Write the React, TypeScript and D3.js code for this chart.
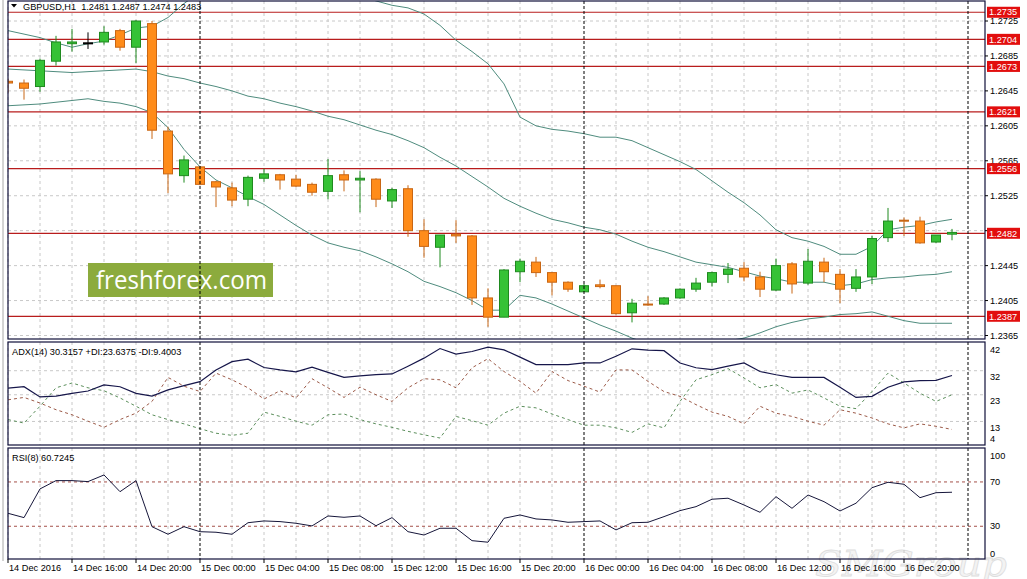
import React from 'react';
import * as d3 from 'd3';

// GBPUSD H1, 14 Dec 12:00 .. 16 Dec 23:00
const opens = [1.2656, 1.2654, 1.2650, 1.2679, 1.2699, 1.2700, 1.2701, 1.2714, 1.2695, 1.2722,
  1.2599, 1.2548, 1.2558, 1.2541, 1.2534, 1.2521, 1.2545, 1.2549, 1.2544, 1.2538,
  1.2530, 1.2549, 1.2543, 1.2544, 1.2519, 1.2533, 1.2485, 1.2466, 1.2481, 1.2479,
  1.2408, 1.2386, 1.2438, 1.2449, 1.2437, 1.2426, 1.2415, 1.2423, 1.2422, 1.2391,
  1.2401, 1.2401, 1.2408, 1.2418, 1.2426, 1.2435, 1.2442, 1.2432, 1.2417, 1.2447,
  1.2425, 1.2449, 1.2435, 1.2419, 1.2432, 1.2477, 1.2497, 1.2496, 1.2472, 1.2481];
const highs = [1.2659, 1.2658, 1.2682, 1.2708, 1.2716, 1.2712, 1.2719, 1.2716, 1.2726, 1.2725,
  1.2604, 1.2571, 1.2559, 1.2542, 1.2540, 1.2548, 1.2556, 1.2550, 1.2549, 1.2540,
  1.2567, 1.2554, 1.2553, 1.2545, 1.2534, 1.2537, 1.2498, 1.2480, 1.2497, 1.2480,
  1.2419, 1.2441, 1.2453, 1.2455, 1.2437, 1.2427, 1.2424, 1.2429, 1.2422, 1.2407,
  1.2410, 1.2409, 1.2419, 1.2431, 1.2438, 1.2448, 1.2449, 1.2438, 1.2453, 1.2449,
  1.2464, 1.2454, 1.2441, 1.2441, 1.2479, 1.2511, 1.2500, 1.2501, 1.2480, 1.2487];
const lows = [1.2643, 1.2635, 1.2644, 1.2674, 1.2690, 1.2693, 1.2698, 1.2691, 1.2677, 1.2590,
  1.2528, 1.2540, 1.2537, 1.2512, 1.2513, 1.2513, 1.2541, 1.2532, 1.2535, 1.2525,
  1.2521, 1.2530, 1.2506, 1.2512, 1.2511, 1.2478, 1.2454, 1.2443, 1.2471, 1.2400,
  1.2375, 1.2386, 1.2426, 1.2432, 1.2411, 1.2415, 1.2415, 1.2419, 1.2389, 1.2380,
  1.2399, 1.2400, 1.2407, 1.2415, 1.2421, 1.2425, 1.2427, 1.2409, 1.2416, 1.2413,
  1.2423, 1.2426, 1.2402, 1.2415, 1.2424, 1.2472, 1.2479, 1.2470, 1.2471, 1.2474];
const closes = [1.2654, 1.2648, 1.2680, 1.2701, 1.2701, 1.2700, 1.2712, 1.2695, 1.2725, 1.2600,
  1.2550, 1.2566, 1.2538, 1.2535, 1.2520, 1.2546, 1.2550, 1.2543, 1.2536, 1.2529,
  1.2548, 1.2543, 1.2545, 1.2521, 1.2532, 1.2485, 1.2467, 1.2480, 1.2479, 1.2408,
  1.2386, 1.2440, 1.2450, 1.2437, 1.2426, 1.2418, 1.2422, 1.2421, 1.2390, 1.2402,
  1.2400, 1.2408, 1.2418, 1.2425, 1.2437, 1.2441, 1.2432, 1.2418, 1.2445, 1.2424,
  1.2450, 1.2438, 1.2418, 1.2432, 1.2476, 1.2496, 1.2496, 1.2471, 1.2480, 1.2483];

// bollinger bands
const bbUpper = [1.2714, 1.2710, 1.2706, 1.2700, 1.2695, 1.2699, 1.2702, 1.2709, 1.2717, 1.2719,
  1.2729, 1.2745, 1.2758, 1.2766, 1.2772, 1.2774, 1.2775, 1.2775, 1.2774, 1.2772,
  1.2767, 1.2761, 1.2753, 1.2748, 1.2743, 1.2740, 1.2733, 1.2720, 1.2703, 1.2690,
  1.2676, 1.2653, 1.2615, 1.2605, 1.2601, 1.2599, 1.2596, 1.2592, 1.2592, 1.2588,
  1.2580, 1.2572, 1.2564, 1.2555, 1.2542, 1.2529, 1.2517, 1.2503, 1.2486, 1.2477,
  1.2473, 1.2467, 1.2458, 1.2458, 1.2467, 1.2486, 1.2489, 1.2491, 1.2495, 1.2498];
const bbMiddle = [1.2670, 1.2669, 1.2668, 1.2667, 1.2666, 1.2667, 1.2668, 1.2669, 1.2670, 1.2667,
  1.2662, 1.2659, 1.2654, 1.2650, 1.2645, 1.2639, 1.2636, 1.2631, 1.2627, 1.2622,
  1.2616, 1.2612, 1.2606, 1.2600, 1.2595, 1.2588, 1.2580, 1.2569, 1.2559, 1.2547,
  1.2535, 1.2522, 1.2513, 1.2505, 1.2498, 1.2494, 1.2489, 1.2486, 1.2481, 1.2473,
  1.2466, 1.2461, 1.2455, 1.2449, 1.2446, 1.2443, 1.2438, 1.2433, 1.2430, 1.2426,
  1.2426, 1.2426, 1.2422, 1.2424, 1.2429, 1.2431, 1.2432, 1.2434, 1.2435, 1.2438];
const bbLower = [1.2628, 1.2629, 1.2630, 1.2632, 1.2634, 1.2636, 1.2633, 1.2631, 1.2627, 1.2620,
  1.2603, 1.2578, 1.2558, 1.2543, 1.2534, 1.2524, 1.2515, 1.2503, 1.2491, 1.2480,
  1.2471, 1.2466, 1.2462, 1.2455, 1.2447, 1.2438, 1.2427, 1.2421, 1.2414, 1.2405,
  1.2394, 1.2394, 1.2411, 1.2408, 1.2401, 1.2393, 1.2385, 1.2377, 1.2370, 1.2362,
  1.2356, 1.2353, 1.2351, 1.2352, 1.2355, 1.2359, 1.2362, 1.2368, 1.2375, 1.2380,
  1.2384, 1.2386, 1.2389, 1.2390, 1.2392, 1.2387, 1.2382, 1.2379, 1.2379, 1.2379];

const adx = [25.5, 26.0, 22.2, 22.5, 23.5, 24.4, 26.7, 26.0, 23.5, 22.5,
  24.8, 26.4, 27.9, 32.3, 35.4, 36.3, 33.2, 32.3, 31.6, 33.3,
  31.4, 29.5, 30.1, 30.5, 30.8, 33.7, 36.7, 40.3, 38.2, 39.2,
  40.8, 39.8, 37.1, 34.3, 34.3, 34.3, 34.9, 34.9, 37.4, 40.2,
  39.7, 39.5, 34.9, 33.1, 32.4, 33.7, 34.9, 31.7, 30.5, 29.5,
  29.5, 29.5, 25.8, 22.0, 22.4, 25.8, 27.8, 28.3, 28.4, 30.2];
const plusDI = [13.7, 12.4, 18.7, 25.6, 27.4, 25.6, 24.5, 21.8, 18.7, 15.5,
  13.7, 12.1, 10.3, 8.6, 7.8, 8.6, 16.5, 14.9, 13.1, 11.6,
  15.5, 15.8, 13.7, 12.1, 10.8, 9.3, 8.0, 6.8, 14.9, 13.3,
  11.6, 16.1, 18.7, 18.1, 15.8, 13.7, 11.6, 11.6, 10.6, 8.9,
  12.1, 10.6, 20.5, 28.6, 30.5, 32.8, 29.3, 25.6, 26.8, 23.6,
  24.8, 21.8, 18.7, 17.8, 24.2, 31.1, 27.4, 23.6, 20.5, 23.0];
const minusDI = [21.1, 22.0, 19.9, 17.4, 15.5, 13.1, 10.8, 13.7, 16.1, 20.5,
  29.5, 26.2, 24.2, 31.1, 28.6, 25.6, 21.4, 24.5, 21.8, 29.0,
  25.6, 22.0, 25.8, 23.0, 20.5, 25.6, 29.0, 28.6, 25.6, 33.1,
  36.5, 31.7, 28.0, 23.6, 31.7, 28.3, 26.2, 24.0, 32.3, 32.3,
  28.0, 24.2, 22.4, 19.3, 16.5, 14.9, 12.1, 18.7, 16.1, 14.9,
  13.1, 11.6, 17.4, 16.1, 14.3, 12.1, 10.6, 12.1, 11.2, 10.0];
const rsi = [41.7, 37.8, 63.7, 71.2, 71.2, 70.3, 76.3, 61.2, 71.2, 29.6,
  22.8, 29.6, 25.1, 24.6, 22.8, 33.2, 34.8, 34.2, 32.7, 30.3,
  39.3, 38.1, 39.3, 30.5, 37.8, 25.1, 22.1, 28.2, 28.2, 17.0,
  15.6, 37.2, 40.2, 36.6, 35.7, 33.6, 34.2, 34.8, 26.7, 33.2,
  33.6, 38.7, 44.1, 47.7, 54.4, 55.3, 49.2, 42.6, 56.7, 46.2,
  58.2, 52.2, 43.8, 50.8, 64.8, 69.7, 67.9, 55.8, 60.3, 60.7];

const levels = [1.2735, 1.2704, 1.2673, 1.2621, 1.2556, 1.2482, 1.2387];
const priceTicks = [1.2725, 1.2685, 1.2645, 1.2605, 1.2565, 1.2525, 1.2485, 1.2445, 1.2405, 1.2365];
const adxTicks = [42, 32, 23, 13];
const rsiTicks = [100, 70, 30, 0];
const rsiLevels = [70, 30];
const timeLabels = ['14 Dec 2016', '14 Dec 16:00', '14 Dec 20:00', '15 Dec 00:00', '15 Dec 04:00',
  '15 Dec 08:00', '15 Dec 12:00', '15 Dec 16:00', '15 Dec 20:00', '16 Dec 00:00', '16 Dec 04:00',
  '16 Dec 08:00', '16 Dec 12:00', '16 Dec 16:00', '16 Dec 20:00'];
const daySeparators = [12, 36, 60];

const W = 1027;
const H = 579;
const LEFT = 8;
const RIGHT = 985;
const MAIN = { top: 1, bottom: 339 };
const ADXP = { top: 342, bottom: 445 };
const RSIP = { top: 448, bottom: 559 };
const FONT = '"Liberation Sans", Arial, sans-serif';
const FS = 9.2;
const GRID = '#c8c8c8';
const FRAME = '#10103a';

export default function App() {
  const x = d3.scaleLinear().domain([0, 60]).range([8, 968]);
  const y = d3.scaleLinear().domain([1.2365, 1.2725]).range([335.5, 21]);
  const ya = d3.scaleLinear().domain([4, 42]).range([445.5, 344]);
  const yr = d3.scaleLinear().domain([0, 100]).range([559.5, 448.7]);

  const priceLine = d3.line<number>().x((_, i) => x(i)).y(d => y(d));
  const adxLine = d3.line<number>().x((_, i) => x(i)).y(d => ya(d));
  const rsiLine = d3.line<number>().x((_, i) => x(i)).y(d => yr(d));

  const gridX = d3.range(0, 60, 2).filter(i => !daySeparators.includes(i));

  const panel = (p: { top: number; bottom: number }, id: string) => (
    <clipPath id={id}>
      <rect x={LEFT} y={p.top} width={RIGHT - LEFT} height={p.bottom - p.top} />
    </clipPath>
  );

  const vGrid = (p: { top: number; bottom: number }) =>
    gridX.map(i => (
      <line key={i} x1={x(i)} x2={x(i)} y1={p.top} y2={p.bottom} stroke={GRID} strokeDasharray="3,3" />
    ));

  return (
    <svg width={W} height={H} style={{ position: 'absolute', left: 0, top: 0, background: '#fff' }}
      fontFamily={FONT} fontSize={FS}>
      <defs>
        {panel(MAIN, 'clipMain')}
        {panel(ADXP, 'clipAdx')}
        {panel(RSIP, 'clipRsi')}
      </defs>
      <rect width={W} height={H} fill="#fff" />
      <line x1={3} x2={3} y1={0} y2={RSIP.bottom + 2} stroke="#a8a8a8" />

      {/* faint watermark behind the bottom right corner */}
      <text x={815} y={576} fontFamily='"DejaVu Serif", serif' fontStyle="italic" fontSize={36}
        fill="#f3f3f3" stroke="#dedede" strokeWidth={0.8}
        textLength={192} lengthAdjust="spacingAndGlyphs">SMGroup</text>

      {/* ---------- main panel ---------- */}
      <g>
        {vGrid(MAIN)}
        {priceTicks.map(t => (
          <line key={t} x1={LEFT} x2={RIGHT} y1={y(t)} y2={y(t)} stroke={GRID} strokeDasharray="3,3" />
        ))}
        {levels.map(l => (
          <line key={l} x1={LEFT} x2={RIGHT} y1={y(l)} y2={y(l)} stroke="#b81c1c" strokeWidth={1.2} />
        ))}
        <rect x={88} y={263} width={185} height={34} fill="#8cab3d" />
        <text x={96} y={289} fontFamily='"Open Sans", sans-serif' fontSize={26} fill="#fff"
          textLength={171} lengthAdjust="spacingAndGlyphs">freshforex.com</text>
        <g clipPath="url(#clipMain)">
          <path d={priceLine(bbUpper) || ''} fill="none" stroke="#4f8c7e" />
          <path d={priceLine(bbMiddle) || ''} fill="none" stroke="#4f8c7e" />
          <path d={priceLine(bbLower) || ''} fill="none" stroke="#4f8c7e" />
          {opens.map((o, i) => {
            const c = closes[i];
            const up = c > o;
            const flat = c === o;
            const fill = flat ? '#000' : up ? '#36c236' : '#ff8c1a';
            const stroke = flat ? '#000' : up ? '#1f8a1f' : '#c86614';
            const cx = x(i);
            const top = y(Math.max(o, c));
            const bh = Math.max(1, y(Math.min(o, c)) - top);
            return (
              <g key={i}>
                <line x1={cx} x2={cx} y1={y(highs[i])} y2={y(lows[i])} stroke={stroke} />
                <rect x={cx - 4.5} y={top} width={9} height={bh} fill={fill} stroke={stroke} />
              </g>
            );
          })}
        </g>
        {daySeparators.map(i => (
          <line key={i} x1={x(i)} x2={x(i)} y1={MAIN.top} y2={MAIN.bottom} stroke="#000" strokeDasharray="3,2" />
        ))}
        <rect x={LEFT} y={MAIN.top} width={RIGHT - LEFT} height={MAIN.bottom - MAIN.top}
          fill="none" stroke={FRAME} strokeWidth={1.2} />
        <path d="M11,4 L17,4 L14,7.5 Z" fill="#000" />
        <text x={23} y={9.5} style={{ whiteSpace: 'pre' }}>{'GBPUSD,H1  1.2481 1.2487 1.2474 1.2483'}</text>
        {priceTicks.map(t => (
          <g key={t}>
            <line x1={RIGHT} x2={RIGHT + 3} y1={y(t)} y2={y(t)} stroke="#000" />
            <text x={990} y={y(t)} dy="0.35em">{t.toFixed(4)}</text>
          </g>
        ))}
        {levels.map(l => (
          <g key={l}>
            <rect x={987} y={y(l) - 5.5} width={33} height={11} fill="#e20e0e" />
            <text x={989} y={y(l)} dy="0.35em" fill="#fff">{l.toFixed(4)}</text>
          </g>
        ))}
      </g>

      {/* ---------- ADX panel ---------- */}
      <g>
        {vGrid(ADXP)}
        {adxTicks.slice(1).map(t => (
          <line key={t} x1={LEFT} x2={RIGHT} y1={ya(t)} y2={ya(t)} stroke={GRID} strokeDasharray="3,3" />
        ))}
        <g clipPath="url(#clipAdx)">
          <path d={adxLine(plusDI) || ''} fill="none" stroke="#5c8f5c" strokeDasharray="3,3" />
          <path d={adxLine(minusDI) || ''} fill="none" stroke="#9c5a48" strokeDasharray="3,3" />
          <path d={adxLine(adx) || ''} fill="none" stroke="#16164a" strokeWidth={1.2} />
        </g>
        {daySeparators.map(i => (
          <line key={i} x1={x(i)} x2={x(i)} y1={ADXP.top} y2={ADXP.bottom} stroke="#000" strokeDasharray="3,2" />
        ))}
        <rect x={LEFT} y={ADXP.top} width={RIGHT - LEFT} height={ADXP.bottom - ADXP.top}
          fill="none" stroke={FRAME} strokeWidth={1.2} />
        <text x={12} y={355}>ADX(14) 30.3157 +DI:23.6375 -DI:9.4003</text>
        {adxTicks.map(t => (
          <text key={t} x={990} y={ya(t) + 6} dy="0.35em">{t}</text>
        ))}
        <text x={990} y={ADXP.bottom - 6} dy="0.35em">{ya.domain()[0]}</text>
      </g>

      {/* ---------- RSI panel ---------- */}
      <g>
        {vGrid(RSIP)}
        {rsiLevels.map(l => (
          <line key={l} x1={LEFT} x2={RIGHT} y1={yr(l)} y2={yr(l)} stroke="#a4504a" strokeDasharray="3,3" />
        ))}
        <g clipPath="url(#clipRsi)">
          <path d={rsiLine(rsi) || ''} fill="none" stroke="#16163a" />
        </g>
        {daySeparators.map(i => (
          <line key={i} x1={x(i)} x2={x(i)} y1={RSIP.top} y2={RSIP.bottom} stroke="#000" strokeDasharray="3,2" />
        ))}
        <rect x={LEFT} y={RSIP.top} width={RIGHT - LEFT} height={RSIP.bottom - RSIP.top}
          fill="none" stroke={FRAME} strokeWidth={1.2} />
        <text x={12} y={461}>RSI(8) 60.7245</text>
        {rsiTicks.map(t => {
          const off = t === 100 ? 7 : t === 0 ? -6 : 0;
          return <text key={t} x={990} y={yr(t) + off} dy="0.35em">{t}</text>;
        })}
      </g>

      {/* ---------- time axis ---------- */}
      {timeLabels.map((lab, k) => (
        <g key={lab}>
          <line x1={x(k * 4)} x2={x(k * 4)} y1={RSIP.bottom} y2={RSIP.bottom + 4} stroke="#000" />
          <text x={x(k * 4) + 1} y={571}>{lab}</text>
        </g>
      ))}
    </svg>
  );
}
